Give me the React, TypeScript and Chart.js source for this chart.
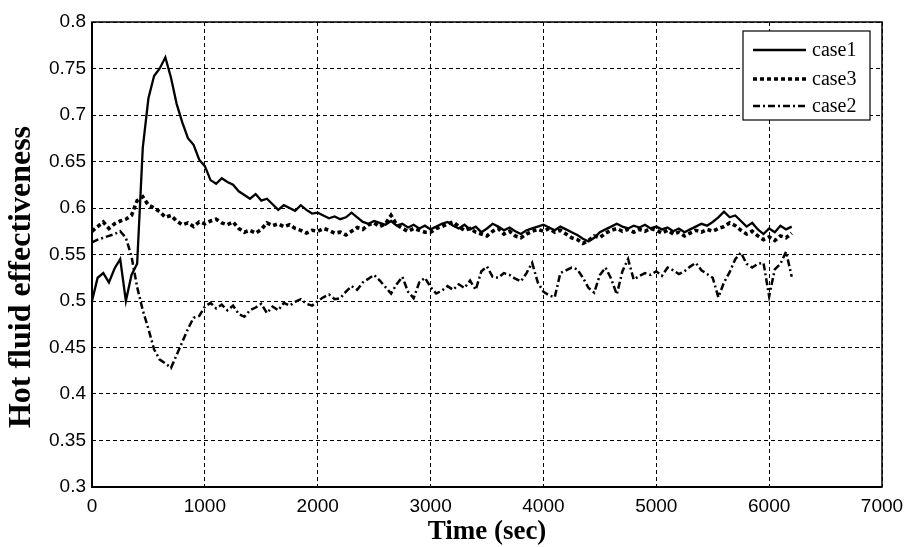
import React, { useEffect, useRef } from "react";
import { Chart, registerables } from "chart.js";

Chart.register(...registerables);

const TIMES = [
  0, 50, 100, 150, 200, 250, 300, 350, 400, 450, 500, 550, 600, 650, 700, 750, 800, 850, 900, 950,
  1000, 1050, 1100, 1150, 1200, 1250, 1300, 1350, 1400, 1450, 1500, 1550, 1600, 1650, 1700, 1750, 1800, 1850, 1900, 1950,
  2000, 2050, 2100, 2150, 2200, 2250, 2300, 2350, 2400, 2450, 2500, 2550, 2600, 2650, 2700, 2750, 2800, 2850, 2900, 2950,
  3000, 3050, 3100, 3150, 3200, 3250, 3300, 3350, 3400, 3450, 3500, 3550, 3600, 3650, 3700, 3750, 3800, 3850, 3900, 3950,
  4000, 4050, 4100, 4150, 4200, 4250, 4300, 4350, 4400, 4450, 4500, 4550, 4600, 4650, 4700, 4750, 4800, 4850, 4900, 4950,
  5000, 5050, 5100, 5150, 5200, 5250, 5300, 5350, 5400, 5450, 5500, 5550, 5600, 5650, 5700, 5750, 5800, 5850, 5900, 5950,
  6000, 6050, 6100, 6150, 6200,
];

const CASE1 = [
  0.5, 0.525, 0.53, 0.52, 0.535, 0.545, 0.5, 0.528, 0.54, 0.665, 0.718, 0.742, 0.75, 0.762, 0.74, 0.712, 0.692, 0.675, 0.668, 0.652,
  0.645, 0.63, 0.626, 0.632, 0.628, 0.625, 0.618, 0.614, 0.61, 0.615, 0.608, 0.61, 0.604, 0.598, 0.603, 0.6, 0.597, 0.603, 0.598, 0.594,
  0.595, 0.592, 0.589, 0.591, 0.588, 0.59, 0.595, 0.59, 0.585, 0.583, 0.586, 0.584, 0.582, 0.586, 0.581, 0.583, 0.579, 0.582, 0.578, 0.581,
  0.577, 0.58, 0.583, 0.585, 0.581, 0.578, 0.582, 0.577, 0.58, 0.574, 0.578, 0.583, 0.58, 0.576, 0.579, 0.575, 0.572, 0.576, 0.578, 0.58,
  0.582, 0.579, 0.576, 0.58, 0.577, 0.574, 0.571, 0.567, 0.564, 0.568, 0.574, 0.577, 0.58, 0.583, 0.58, 0.578, 0.581, 0.579, 0.582, 0.578,
  0.58, 0.577, 0.579, 0.575, 0.578, 0.574, 0.577, 0.58, 0.583, 0.581, 0.585, 0.59, 0.596, 0.59, 0.592, 0.586, 0.58, 0.584, 0.577, 0.572,
  0.578, 0.574, 0.581, 0.577, 0.58,
];

const CASE3 = [
  0.575, 0.58, 0.585, 0.578, 0.583, 0.586, 0.588, 0.592, 0.608, 0.612, 0.603, 0.6, 0.596, 0.59, 0.592, 0.586, 0.582, 0.584, 0.58, 0.585,
  0.583, 0.586, 0.588, 0.584, 0.582, 0.585, 0.578, 0.574, 0.576, 0.573, 0.577, 0.584, 0.581, 0.583, 0.58, 0.582, 0.578, 0.576, 0.573, 0.576,
  0.575, 0.578, 0.576, 0.573, 0.574, 0.571, 0.575, 0.579, 0.577, 0.582, 0.584, 0.58, 0.583, 0.592, 0.582, 0.578, 0.575, 0.578, 0.576, 0.574,
  0.574, 0.578, 0.58, 0.583, 0.585, 0.58, 0.576, 0.578, 0.574, 0.572, 0.57, 0.575, 0.578, 0.572, 0.575, 0.57, 0.568, 0.572, 0.575, 0.577,
  0.575, 0.578, 0.574, 0.576, 0.572, 0.568, 0.566, 0.562, 0.565, 0.57, 0.568, 0.573, 0.576, 0.578, 0.575, 0.577, 0.574, 0.577, 0.575, 0.578,
  0.576, 0.573, 0.576, 0.572, 0.574, 0.57, 0.573, 0.576, 0.574, 0.577, 0.575, 0.578, 0.58, 0.584, 0.581, 0.576, 0.572, 0.575, 0.57, 0.566,
  0.569, 0.565, 0.57, 0.568, 0.573,
];

const CASE2 = [
  0.563, 0.566, 0.568, 0.57, 0.572, 0.575, 0.568, 0.548, 0.515, 0.49, 0.47, 0.448, 0.437, 0.433, 0.428, 0.442, 0.456, 0.47, 0.482, 0.484,
  0.494, 0.498, 0.492, 0.496, 0.49, 0.495, 0.486, 0.483, 0.49, 0.493, 0.497, 0.487, 0.494, 0.49, 0.498, 0.495, 0.499, 0.502, 0.497, 0.495,
  0.5, 0.504, 0.507, 0.502, 0.503, 0.51, 0.516, 0.512, 0.52, 0.524, 0.528, 0.522, 0.515, 0.508, 0.518, 0.526, 0.51, 0.503, 0.52, 0.525,
  0.515, 0.508, 0.511, 0.516, 0.512, 0.518, 0.514, 0.522, 0.512, 0.532, 0.537, 0.526, 0.525, 0.53, 0.528, 0.524, 0.521, 0.53, 0.541, 0.52,
  0.51, 0.506, 0.504, 0.53, 0.533, 0.536, 0.534, 0.525, 0.514, 0.509, 0.528, 0.536, 0.524, 0.507, 0.532, 0.545, 0.523, 0.527, 0.53, 0.528,
  0.532, 0.527, 0.536, 0.533, 0.529, 0.532, 0.537, 0.541, 0.533, 0.529, 0.525, 0.504, 0.52, 0.531, 0.545, 0.552, 0.54, 0.536, 0.54, 0.541,
  0.505, 0.534, 0.54, 0.553, 0.526,
];

const X_TICKS = [0, 1000, 2000, 3000, 4000, 5000, 6000, 7000];
const Y_TICKS = [0.3, 0.35, 0.4, 0.45, 0.5, 0.55, 0.6, 0.65, 0.7, 0.75, 0.8];
const SERIES_NAMES = ["case1", "case3", "case2"];
const X_TITLE = "Time (sec)";
const Y_TITLE = "Hot fluid effectiveness";

const STYLES = [
  { width: 2.3, dash: [] as number[] },
  { width: 3.6, dash: [4, 3] },
  { width: 2.5, dash: [7, 3, 2, 3] },
];

const extrasPlugin = {
  id: "extras",
  beforeDatasetsDraw(chart: any) {
    const { ctx, chartArea } = chart;
    ctx.save();
    ctx.strokeStyle = "#000";
    ctx.lineWidth = 1.5;
    ctx.setLineDash([]);
    ctx.strokeRect(chartArea.left, chartArea.top, chartArea.right - chartArea.left, chartArea.bottom - chartArea.top);
    ctx.lineWidth = 2;
    ctx.beginPath();
    ctx.moveTo(chartArea.left, chartArea.top);
    ctx.lineTo(chartArea.left, chartArea.bottom);
    ctx.lineTo(chartArea.right, chartArea.bottom);
    ctx.stroke();
    ctx.restore();
  },
  afterDraw(chart: any) {
    const { ctx, chartArea } = chart;
    ctx.save();
    ctx.fillStyle = "#000";
    ctx.font = "bold 27px 'Liberation Serif', serif";
    ctx.textAlign = "center";
    ctx.textBaseline = "middle";
    ctx.fillText(X_TITLE, (chartArea.left + chartArea.right) / 2, 532);
    ctx.translate(22, 277);
    ctx.rotate(-Math.PI / 2);
    ctx.font = "bold 32px 'Liberation Serif', serif";
    ctx.fillText(Y_TITLE, 0, 0);
    ctx.restore();

    ctx.save();
    const bx = 743, by = 31, bw = 127, bh = 89;
    ctx.fillStyle = "#fff";
    ctx.fillRect(bx, by, bw, bh);
    ctx.strokeStyle = "#000";
    ctx.lineWidth = 1.2;
    ctx.setLineDash([]);
    ctx.strokeRect(bx, by, bw, bh);
    const rows = [50, 79, 106];
    SERIES_NAMES.forEach((name, i) => {
      const ds = chart.data.datasets[i];
      ctx.strokeStyle = "#000";
      ctx.lineWidth = ds.borderWidth;
      ctx.setLineDash(ds.borderDash || []);
      ctx.beginPath();
      ctx.moveTo(753, rows[i]);
      ctx.lineTo(806, rows[i]);
      ctx.stroke();
      ctx.setLineDash([]);
      ctx.fillStyle = "#000";
      ctx.font = "20px 'Liberation Serif', serif";
      ctx.textAlign = "left";
      ctx.textBaseline = "middle";
      ctx.fillText(name, 812, rows[i] + 1);
    });
    ctx.restore();
  },
};

export default function App() {
  const ref = useRef<HTMLCanvasElement | null>(null);
  useEffect(() => {
    if (!ref.current) return;
    const seriesValues = [CASE1, CASE3, CASE2];
    const chart = new Chart(ref.current, {
      type: "line",
      data: {
        datasets: SERIES_NAMES.map((name, i) => ({
          label: name,
          data: TIMES.map((t, j) => ({ x: t, y: seriesValues[i][j] })),
          borderColor: "#000",
          backgroundColor: "#000",
          borderWidth: STYLES[i].width,
          borderDash: STYLES[i].dash,
          pointRadius: 0,
          tension: 0,
          fill: false,
        })),
      },
      options: {
        responsive: false,
        animation: false,
        events: [],
        layout: { padding: { left: 0, right: 24, top: 22, bottom: 0 } },
        plugins: { legend: { display: false }, tooltip: { enabled: false }, title: { display: false } },
        scales: {
          x: {
            type: "linear",
            min: 0,
            max: 7000,
            afterBuildTicks: (s: any) => {
              s.ticks = X_TICKS.map((v) => ({ value: v }));
            },
            afterFit: (s: any) => {
              s.height = 60;
              s.paddingLeft = 0;
              s.paddingRight = 0;
            },
            border: { display: false, dash: [4, 3] },
            grid: { color: "#000", lineWidth: 1, drawTicks: false, tickLength: 0 },
            ticks: {
              color: "#000",
              font: { family: "'Liberation Sans', Arial, sans-serif", size: 19 },
              padding: 8,
              maxRotation: 0,
              callback: (v: any) => String(v),
            },
          },
          y: {
            type: "linear",
            min: 0.3,
            max: 0.8,
            afterBuildTicks: (s: any) => {
              s.ticks = Y_TICKS.map((v) => ({ value: v }));
            },
            afterFit: (s: any) => {
              s.width = 92;
              s.paddingTop = 0;
              s.paddingBottom = 0;
            },
            border: { display: false, dash: [4, 3] },
            grid: { color: "#000", lineWidth: 1, drawTicks: false, tickLength: 0 },
            ticks: {
              color: "#000",
              font: { family: "'Liberation Sans', Arial, sans-serif", size: 19 },
              padding: 6,
              callback: (v: any) => String(Number(Number(v).toFixed(2))),
            },
          },
        },
      },
      plugins: [extrasPlugin],
    } as any);
    return () => chart.destroy();
  }, []);
  return (
    <div style={{ position: "absolute", left: 0, top: 0, width: 906, height: 547, background: "#fff" }}>
      <canvas ref={ref} width={906} height={547} />
    </div>
  );
}
